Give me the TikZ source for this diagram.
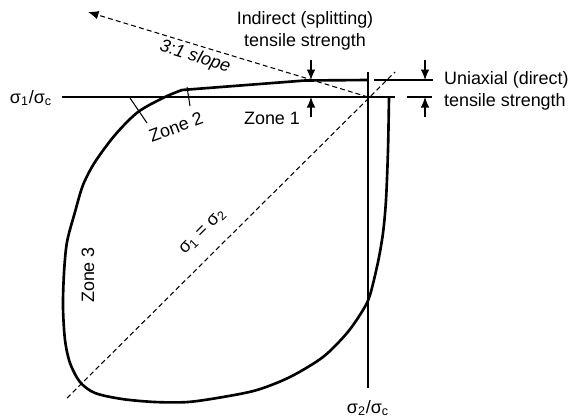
\documentclass[tikz,border=0pt]{standalone}
\usepackage{fontspec}
\setmainfont{Liberation Sans}
\usetikzlibrary{arrows.meta,calc}

\begin{document}
\begin{tikzpicture}[
  axis/.style={line width=0.6pt},
  envelope/.style={line width=1.5pt, line join=round},
  guide/.style={line width=0.6pt, dash pattern=on 2.8pt off 1.8pt},
  dimarrow/.style={-{Latex[length=2.1mm, width=1.7mm]}, line width=0.6pt},
  lbl/.style={font=\fontsize{10.2}{12.5}\selectfont, inner sep=1pt},
]
\useasboundingbox (0,0) rectangle (11.5,8.36);

% === AXES ===
\coordinate (O) at (7.36,6.42);
\coordinate (xstart) at (1.24,6.42);
\coordinate (xend) at (7.90,6.42);
\coordinate (ytop) at (7.36,6.92);
\coordinate (ybot) at (7.36,0.60);
\draw[axis] (xstart) -- (xend);
\draw[axis] (ytop) -- (ybot);
\node[lbl] (s1) at (0.62,6.40) {σ\textsubscript{1}/σ\textsubscript{c}};
\node[lbl] (s2) at (7.36,0.20) {σ\textsubscript{2}/σ\textsubscript{c}};

% === GUIDE LINES ===
\coordinate (slopetip) at (1.76,8.12);
\coordinate (diagA) at (1.34,0.40);
\coordinate (diagB) at (7.90,6.92);
\draw[guide, -{Latex[length=2.1mm, width=1.7mm]}] (O) -- (slopetip);
\draw[guide] (diagA) -- (diagB);
\node[lbl, font=\fontsize{10.2}{12.5}\selectfont\itshape, rotate=-17] (slope) at (3.90,7.22) {3:1 slope};
\node[lbl, rotate=45] (equal) at (4.06,3.72) {σ\textsubscript{1} = σ\textsubscript{2}};

% === STRENGTH ENVELOPE ===
\draw[envelope] plot[smooth, tension=0.5] coordinates {
  (7.78,6.42) (7.76,5.36) (7.72,4.36) (7.66,3.70) (7.56,3.12) (7.40,2.46)
  (7.26,2.16) (6.94,1.70) (6.46,1.22) (5.80,0.82) (5.14,0.56) (4.46,0.42)
  (3.76,0.32) (3.10,0.32) (2.44,0.38) (1.90,0.50) (1.60,0.72) (1.40,1.10)
  (1.30,1.56) (1.26,2.22) (1.28,2.90) (1.34,3.52) (1.50,4.12) (1.66,4.66)
  (1.90,5.12) (2.30,5.66) (2.76,6.12) (3.30,6.42) (3.64,6.56)}
  -- (6.10,6.75) -- (7.36,6.76);

% zone boundaries
\draw[axis] (2.60,6.40) -- (2.94,5.90);
\draw[axis] (3.74,6.62) -- (3.80,6.24);
\node[lbl] (z1) at (5.44,6.00) {Zone 1};
\node[lbl, rotate=20] (z2) at (3.52,5.82) {Zone 2};
\node[lbl, rotate=90] (z3) at (1.76,2.86) {Zone 3};

% === TENSILE STRENGTH DIMENSIONS ===
\coordinate (extU1) at (7.48,6.76);
\coordinate (extU2) at (8.66,6.76);
\coordinate (extL1) at (8.14,6.42);
\coordinate (extL2) at (8.64,6.42);
\draw[axis] (extU1) -- (extU2);
\draw[axis] (extL1) -- (extL2);
\draw[dimarrow] (8.50,7.16) -- (8.50,6.76);
\draw[dimarrow] (8.50,6.02) -- (8.50,6.42);
\draw[dimarrow] (6.22,7.16) -- (6.22,6.76);
\draw[dimarrow] (6.22,6.02) -- (6.22,6.42);
\node[lbl, align=center] (indirect) at (6.10,7.74) {Indirect (splitting)\\tensile strength};
\node[lbl, align=left, anchor=west] (uniax) at (8.84,6.54) {Uniaxial (direct)\\tensile strength};
\end{tikzpicture}
\end{document}
